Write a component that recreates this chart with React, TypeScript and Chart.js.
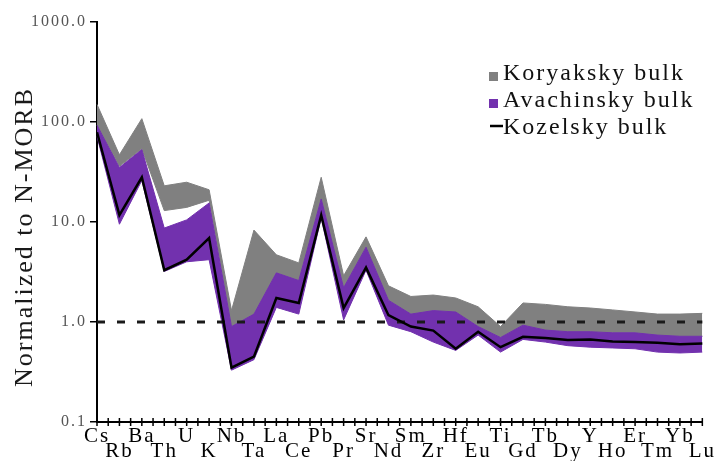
import React, { useEffect, useRef } from 'react';
import { Chart, registerables } from 'chart.js';

Chart.register(...registerables);

const elements = ['Cs', 'Rb', 'Ba', 'Th', 'U', 'K', 'Nb', 'Ta', 'La', 'Ce', 'Pb', 'Pr', 'Sr', 'Nd', 'Sm', 'Zr', 'Hf', 'Eu', 'Ti', 'Gd', 'Tb', 'Dy', 'Y', 'Ho', 'Er', 'Tm', 'Yb', 'Lu'];

const koryakskyMax = [150, 47, 108, 23, 25, 21, 1.3, 8.3, 4.7, 3.9, 28, 2.9, 7.1, 2.3, 1.8, 1.86, 1.74, 1.42, 0.9, 1.55, 1.5, 1.42, 1.38, 1.32, 1.26, 1.2, 1.2, 1.22];
const koryakskyMin = [93, 36, 54, 13, 14, 16.5, 0.9, 1.2, 3.1, 2.6, 17, 2.2, 5.6, 1.65, 1.2, 1.3, 1.26, 0.9, 0.7, 0.93, 0.83, 0.8, 0.8, 0.78, 0.78, 0.74, 0.72, 0.72];
const avachinskyMax = [93, 35, 53, 8.7, 10.5, 15.5, 0.9, 1.2, 3.1, 2.6, 17, 2.2, 5.6, 1.65, 1.2, 1.3, 1.26, 0.9, 0.7, 0.93, 0.83, 0.8, 0.8, 0.78, 0.78, 0.74, 0.72, 0.72];
const avachinskyMin = [72, 9.5, 26, 3.2, 4.0, 4.2, 0.33, 0.42, 1.4, 1.2, 11, 1.05, 3.3, 0.93, 0.8, 0.63, 0.52, 0.74, 0.5, 0.67, 0.63, 0.58, 0.56, 0.55, 0.54, 0.5, 0.49, 0.5];
const kozelsky = [79, 11.7, 28, 3.3, 4.2, 6.9, 0.35, 0.45, 1.74, 1.55, 11.7, 1.38, 3.5, 1.17, 0.9, 0.82, 0.54, 0.8, 0.56, 0.71, 0.69, 0.66, 0.67, 0.64, 0.63, 0.62, 0.6, 0.61];

const yTicks = [0.1, 1, 10, 100, 1000];
const referenceLevel = 1;

const legendItems = ['Koryaksky bulk', 'Avachinsky bulk', 'Kozelsky bulk'];
const yTitle = 'Normalized to N-MORB';

const FONT = "'Liberation Serif', 'Times New Roman', serif";
const GREY = '#808080';
const PURPLE = '#7231AE';

export default function App() {
  const ref = useRef<HTMLCanvasElement>(null);

  useEffect(() => {
    const canvas = ref.current;
    if (!canvas) return;

    const spacing = {
      id: 'spacing',
      beforeLayout(chart: any) {
        chart.ctx.letterSpacing = '2px';
      },
      beforeDraw(chart: any) {
        chart.ctx.letterSpacing = '2px';
        const ctx = chart.ctx;
        ctx.save();
        ctx.fillStyle = '#ffffff';
        ctx.fillRect(0, 0, chart.width, chart.height);
        ctx.restore();
      },
    };

    const extras = {
      id: 'extras',
      afterDraw(chart: any) {
        const ctx = chart.ctx;
        const xs = chart.scales.x;
        const area = chart.chartArea;
        ctx.save();
        ctx.letterSpacing = '2px';
        // x-axis tick marks (major and half-step minor) crossing the axis
        ctx.strokeStyle = '#000';
        ctx.lineWidth = 1.5;
        ctx.beginPath();
        for (let i = 0; i < elements.length; i++) {
          const p = xs.getPixelForValue(i);
          ctx.moveTo(p, area.bottom - 4);
          ctx.lineTo(p, area.bottom + 4);
          if (i < elements.length - 1) {
            const q = (p + xs.getPixelForValue(i + 1)) / 2;
            ctx.moveTo(q, area.bottom - 4);
            ctx.lineTo(q, area.bottom + 4);
          }
        }
        ctx.stroke();

        // y title
        ctx.save();
        ctx.translate(32, 237);
        ctx.rotate(-Math.PI / 2);
        ctx.font = `26px ${FONT}`;
        ctx.fillStyle = '#1a1a1a';
        ctx.textAlign = 'center';
        ctx.textBaseline = 'alphabetic';
        ctx.fillText(yTitle, 0, 0);
        ctx.restore();

        // legend
        ctx.font = `24px ${FONT}`;
        ctx.fillStyle = '#111';
        ctx.textAlign = 'left';
        ctx.textBaseline = 'alphabetic';
        const baselines = [80, 107, 134];
        ctx.fillStyle = GREY;
        ctx.fillRect(489, 72, 9, 9);
        ctx.fillStyle = PURPLE;
        ctx.fillRect(489, 99, 9, 9);
        ctx.strokeStyle = '#000';
        ctx.lineWidth = 2.5;
        ctx.beginPath();
        ctx.moveTo(490, 126);
        ctx.lineTo(503, 126);
        ctx.stroke();
        ctx.fillStyle = '#111';
        legendItems.forEach((t, i) => ctx.fillText(t, 503, baselines[i]));
        ctx.restore();
      },
    };

    const band = (data: number[], color: string, fill: any) => ({
      data,
      borderColor: color,
      backgroundColor: color,
      borderWidth: 1,
      pointRadius: 0,
      tension: 0,
      fill,
    });

    const chart = new Chart(canvas, {
      type: 'line',
      data: {
        labels: elements.map((e, i) => (i % 2 === 0 ? [e] : ['', e])),
        datasets: [
          {
            label: 'Kozelsky bulk',
            data: kozelsky,
            borderColor: '#000',
            borderWidth: 2.5,
            pointRadius: 0,
            tension: 0,
            fill: false,
          },
          {
            label: 'N-MORB',
            data: elements.map(() => referenceLevel),
            borderColor: '#1a1a1a',
            borderWidth: 3,
            borderDash: [8, 12],
            pointRadius: 0,
            fill: false,
          },
          { label: 'Avachinsky max', ...band(avachinskyMax, PURPLE, '+1') },
          { label: 'Avachinsky min', ...band(avachinskyMin, PURPLE, false) },
          { label: 'Koryaksky max', ...band(koryakskyMax, GREY, '+1') },
          { label: 'Koryaksky min', ...band(koryakskyMin, GREY, false) },
        ],
      } as any,
      options: {
        animation: false,
        responsive: true,
        maintainAspectRatio: false,
        layout: { padding: { top: 22, right: 20, left: 0, bottom: 0 } },
        plugins: {
          legend: { display: false },
          tooltip: { enabled: false },
        },
        scales: {
          x: {
            type: 'category',
            offset: false,
            grid: { display: true, drawOnChartArea: false, drawTicks: false, color: '#000' },
            border: { display: true, color: '#000', width: 2 },
            ticks: {
              autoSkip: false,
              maxRotation: 0,
              minRotation: 0,
              padding: 7,
              color: '#000',
              font: { family: FONT, size: 21, lineHeight: 0.72 },
            },
            afterFit(scale: any) {
              scale.height = 39;
            },
          },
          y: {
            type: 'logarithmic',
            min: 0.1,
            max: 1000,
            grid: { display: true, drawOnChartArea: false, drawTicks: true, tickLength: 7, color: '#000', lineWidth: 1.5 },
            border: { display: true, color: '#000', width: 2 },
            ticks: {
              padding: 3,
              color: '#555',
              font: { family: FONT, size: 16 },
              callback: (v: any) => Number(v).toFixed(1),
            },
            afterBuildTicks(scale: any) {
              scale.ticks = yTicks.map((v) => ({ value: v }));
            },
            afterFit(scale: any) {
              scale.width = 97;
            },
          },
        },
      } as any,
      plugins: [spacing, extras],
    });

    return () => chart.destroy();
  }, []);

  return (
    <div style={{ position: 'fixed', left: 0, top: 0, width: 723, height: 461, background: '#fff' }}>
      <canvas ref={ref} />
    </div>
  );
}
